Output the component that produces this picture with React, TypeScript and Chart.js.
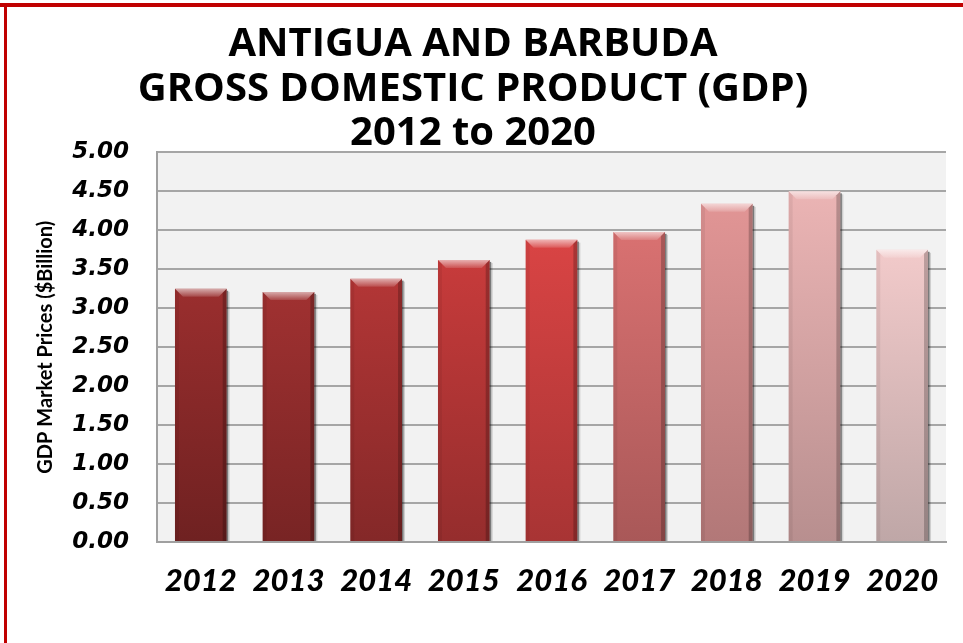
import React, { useEffect, useRef } from "react";
import { Chart, registerables } from "chart.js";

Chart.register(...registerables);

const categories = ["2012", "2013", "2014", "2015", "2016", "2017", "2018", "2019", "2020"];
const gdpValues = [3.25, 3.21, 3.38, 3.62, 3.88, 3.98, 4.34, 4.5, 3.75];
const titleLines = ["ANTIGUA AND BARBUDA", "GROSS DOMESTIC PRODUCT (GDP)", "2012 to 2020"];
const yAxisTitle = "GDP Market Prices ($Billion)";
const yMin = 0;
const yMax = 5;
const yStep = 0.5;

const topColors = ["#9a2e2e", "#a03131", "#b33636", "#c73b3b", "#d94444", "#d97171", "#e19595", "#ebb4b4", "#f2caca"];
const bottomColors = ["#6f2121", "#782424", "#842828", "#952d2d", "#a83434", "#a95858", "#b27878", "#b88f8f", "#bfa7a7"];

const gradientPlugin = {
  id: "barGradient",
  beforeDraw(chart: any) {
    const { ctx, chartArea } = chart;
    ctx.save();
    ctx.fillStyle = "#ffffff";
    ctx.fillRect(0, 0, chart.width, chart.height);
    ctx.fillStyle = "#f2f2f2";
    ctx.fillRect(chartArea.left, chartArea.top, chartArea.right - chartArea.left, chartArea.bottom - chartArea.top);
    ctx.fillStyle = "#c00000";
    ctx.fillRect(0, 3, chart.width, 4);
    ctx.fillRect(4, 3, 3, chart.height);
    ctx.restore();
  },
  beforeDatasetsDraw(chart: any) {
    const { ctx } = chart;
    const meta = chart.getDatasetMeta(0);
    meta.data.forEach((el: any, i: number) => {
      const p = el.getProps(["y", "base"], true);
      const g = ctx.createLinearGradient(0, p.y, 0, p.base);
      g.addColorStop(0, topColors[i]);
      g.addColorStop(1, bottomColors[i]);
      el.options.backgroundColor = g;
    });
  },
  afterDatasetsDraw(chart: any) {
    const { ctx } = chart;
    const meta = chart.getDatasetMeta(0);
    ctx.save();
    meta.data.forEach((el: any) => {
      const p = el.getProps(["x", "y", "base", "width"], true);
      const x0 = p.x - p.width / 2;
      const x1 = p.x + p.width / 2;
      const top = p.y;
      const base = p.base;
      const b = 8;
      const hg = ctx.createLinearGradient(0, top, 0, top + b);
      hg.addColorStop(0, "rgba(255,255,255,0.6)");
      hg.addColorStop(1, "rgba(255,255,255,0.12)");
      ctx.fillStyle = hg;
      ctx.beginPath();
      ctx.moveTo(x0, top);
      ctx.lineTo(x1, top);
      ctx.lineTo(x1 - b, top + b);
      ctx.lineTo(x0 + b, top + b);
      ctx.closePath();
      ctx.fill();
      ctx.fillStyle = "rgba(0,0,0,0.06)";
      ctx.beginPath();
      ctx.moveTo(x0, top);
      ctx.lineTo(x0 + 4, top + 4);
      ctx.lineTo(x0 + 4, base);
      ctx.lineTo(x0, base);
      ctx.closePath();
      ctx.fill();
      ctx.fillStyle = "rgba(0,0,0,0.22)";
      ctx.beginPath();
      ctx.moveTo(x1, top);
      ctx.lineTo(x1 - 4, top + 4);
      ctx.lineTo(x1 - 4, base);
      ctx.lineTo(x1, base);
      ctx.closePath();
      ctx.fill();
      ctx.fillStyle = "rgba(0,0,0,0.5)";
      ctx.fillRect(x1, top + 2, 1.5, base - top - 2);
      ctx.fillStyle = "rgba(0,0,0,0.15)";
      ctx.fillRect(x1 + 1.5, top + 3, 1.5, base - top - 3);
    });
    ctx.restore();
  },
};

export default function App() {
  const canvasRef = useRef<HTMLCanvasElement>(null);

  useEffect(() => {
    document.body.style.margin = "0";
    const canvas = canvasRef.current;
    if (!canvas) return;
    const chart = new Chart(canvas, {
      type: "bar",
      data: {
        labels: categories,
        datasets: [
          {
            data: gdpValues,
            backgroundColor: (c: any) => bottomColors[c.dataIndex] || bottomColors[0],
            borderWidth: 0,
            barPercentage: 0.59,
            categoryPercentage: 1,
          },
        ],
      },
      options: {
        responsive: false,
        animation: false,
        devicePixelRatio: 1,
        layout: { padding: { left: 0, right: 17, top: 0, bottom: 0 } },
        plugins: {
          legend: { display: false },
          tooltip: { enabled: false },
          title: {
            display: true,
            text: titleLines,
            color: "#000000",
            font: { family: "Open Sans", size: 40, weight: "bold", lineHeight: 1.12 },
            padding: { top: 22, bottom: -4 },
          },
        },
        scales: {
          x: {
            grid: { display: false },
            border: { display: true, color: "#a0a0a0", width: 2 },
            ticks: {
              color: "#000000",
              padding: 12,
              font: { family: "Lato", size: 31, weight: "900", style: "italic" },
              maxRotation: 0,
              autoSkip: false,
            },
            afterFit: (s: any) => {
              s.height = 101;
            },
          },
          y: {
            min: yMin,
            max: yMax,
            grid: { color: "#a6a6a6", lineWidth: 2, drawTicks: false },
            border: { display: true, color: "#a0a0a0", width: 2 },
            ticks: {
              stepSize: yStep,
              color: "#000000",
              padding: 28,
              font: { family: "DejaVu Sans", size: 23, weight: "bold", style: "italic" },
              callback: (v: any) => Number(v).toFixed(2),
            },
            title: {
              display: true,
              text: yAxisTitle,
              color: "#000000",
              font: { family: "Lato", size: 20, weight: "bold" },
              padding: { top: 34, bottom: 0 },
            },
            afterFit: (s: any) => {
              s.width = 157;
            },
          },
        },
      },
      plugins: [gradientPlugin],
    });
    return () => chart.destroy();
  }, []);

  return (
    <div style={{ position: "absolute", left: 0, top: 0, width: 963, height: 643 }}>
      <canvas ref={canvasRef} width={963} height={643} style={{ width: 963, height: 643 }} />
    </div>
  );
}
